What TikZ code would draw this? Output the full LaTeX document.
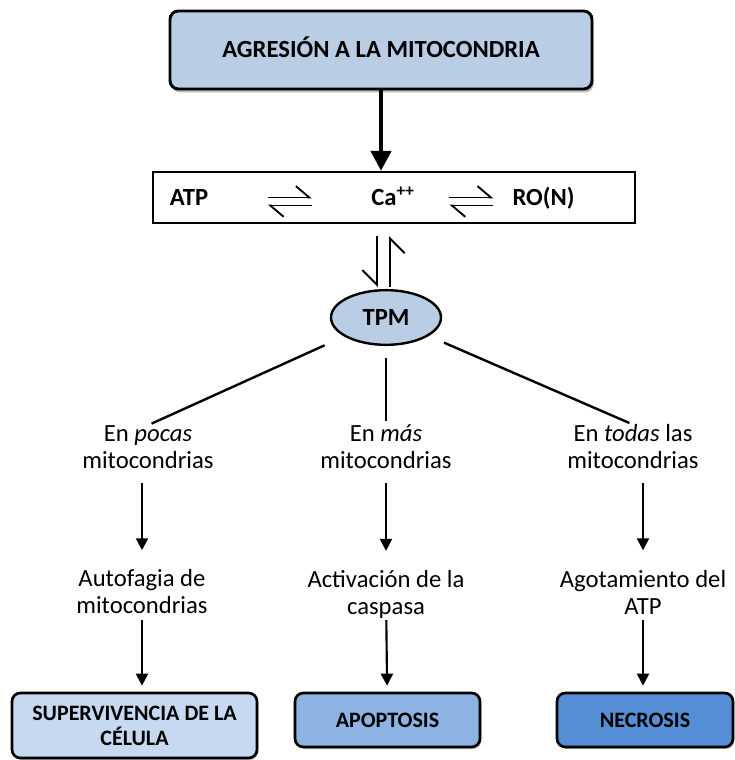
\documentclass[tikz,border=0pt]{standalone}
\usepackage{fontspec}
\setmainfont{Carlito}
\usepackage{tikz}
\usetikzlibrary{arrows.meta,positioning,shapes.geometric,shadows,calc}
\definecolor{MitoTop}{HTML}{B9CDE5}
\definecolor{MitoPale}{HTML}{C6D9F1}
\definecolor{MitoMid}{HTML}{8DB3E2}
\definecolor{MitoDeep}{HTML}{558ED5}

\begin{document}
\begin{tikzpicture}[
  x=0.75pt,y=-0.75pt,
  every node/.style={font=\fontsize{18.5}{20.25}\selectfont},
  hdr/.style={rectangle,rounded corners=2.2mm,draw=black,line width=2.2pt,fill=MitoTop,minimum width=316.5pt,minimum height=58.5pt,text depth=0.45em,font=\fontsize{18.5}{22}\selectfont\bfseries,drop shadow={shadow xshift=1.2pt,shadow yshift=-2.5pt,opacity=.55}},
  eqbox/.style={rectangle,draw=black,line width=1.8pt,fill=white,minimum width=361.5pt,minimum height=38.25pt,inner sep=0pt,drop shadow={shadow xshift=1pt,shadow yshift=-1pt,opacity=.4}},
  species/.style={inner sep=0pt,text height=0.75em,text depth=0.22em,font=\fontsize{18.5}{22}\selectfont\bfseries},
  tpmshape/.style={ellipse,draw=black,line width=1.8pt,fill=MitoTop,minimum width=82.5pt,minimum height=41pt,inner sep=0pt,font=\fontsize{18.5}{22}\selectfont\bfseries},
  lbl/.style={align=center,inner sep=0pt},
  outcome/.style={rectangle,rounded corners=2.2mm,draw=black,line width=2pt,align=center,inner sep=0pt,font=\fontsize{16.5}{18.75}\selectfont\bfseries,drop shadow={shadow xshift=1pt,shadow yshift=-1.5pt,opacity=.5}},
  harpL/.style={-{Straight Barb[left,length=10pt,width=17pt]},line width=1.4pt},
  harpR/.style={-{Straight Barb[right,length=11pt,width=22pt]},line width=1.4pt},
  branch/.style={line width=1.8pt},
  arrow/.style={-{Triangle[length=9pt,width=9pt]},line width=1.6pt},
  bigarrow/.style={-{Triangle[length=15pt,width=15pt]},line width=3.5pt}
]
\useasboundingbox (0,0) rectangle (735,760);
\node[hdr] (agresion) at (381,50) {AGRESIÓN A LA MITOCONDRIA};
\node[eqbox] (equil) at (394,197.5) {};
\node[species,anchor=base] (atp) at (189,205) {ATP};
\node[species,anchor=base] (ca) at (393,205) {Ca\textsuperscript{++}};
\node[species,anchor=base] (ron) at (543.5,205) {RO(N)};
\node[tpmshape] (tpm) at (386,317.5) {TPM};

\node[lbl] (pocas) at (148,447) {En \textit{pocas}\\mitocondrias};
\node[lbl] (mas) at (386,447) {En \textit{más}\\mitocondrias};
\node[lbl] (todas) at (633,447) {En \textit{todas} las\\mitocondrias};
\node[lbl] (autofagia) at (142,592) {Autofagia de\\mitocondrias};
\node[lbl] (activacion) at (386,594.5) {Activación de la\\caspasa};
\node[lbl] (agotamiento) at (643,592) {Agotamiento del\\ATP};

\node[outcome,fill=MitoPale,minimum width=183.75pt,minimum height=48.75pt] (super) at (134.5,725.5) {SUPERVIVENCIA DE LA\\CÉLULA};
\node[outcome,fill=MitoMid,minimum width=138.75pt,minimum height=40.5pt] (apoptosis) at (387.5,720) {APOPTOSIS};
\node[outcome,fill=MitoDeep,minimum width=132pt,minimum height=40.5pt] (necrosis) at (645,720) {NECROSIS};

\draw[bigarrow] (agresion.south) -- (agresion.south |- equil.north);
\draw[harpL] ($(atp.east)!.5!(ca.west)+(-22,-4)$) -- ++(44,0);
\draw[harpL] ($(atp.east)!.5!(ca.west)+(22,4)$) -- ++(-44,0);
\draw[harpL] ($(ca.east)!.58!(ron.west)+(-22,-4)$) -- ++(44,0);
\draw[harpL] ($(ca.east)!.58!(ron.west)+(22,4)$) -- ++(-44,0);
\draw[harpR] ($(tpm.north |- equil.south)+(-9,12)$) -- ($(tpm.north)+(-9,-2)$);
\draw[harpR] ($(tpm.north)+(4,-2)$) -- ($(tpm.north |- equil.south)+(4,12)$);

\draw[branch,shorten <=16pt,shorten >=3pt] (tpm) -- (pocas.north);
\draw[branch,shorten <=9pt,shorten >=3pt] (tpm) -- (mas);
\draw[branch,shorten <=12.5pt,shorten >=3pt] (tpm) -- (todas.north);

\draw[arrow,shorten <=10.5pt,shorten >=14.5pt] (autofagia.north |- pocas.south) -- (autofagia.north);
\draw[arrow,shorten <=10.5pt,shorten >=14.5pt] (mas) -- (activacion);
\draw[arrow,shorten <=10.5pt,shorten >=14.5pt] (agotamiento.north |- todas.south) -- (agotamiento.north);
\draw[arrow,shorten <=4.5pt,shorten >=4.5pt] (autofagia.south) -- (autofagia.south |- super.north);
\draw[arrow,shorten <=1pt,shorten >=4.5pt] (activacion) -- (apoptosis);
\draw[arrow,shorten <=4.5pt,shorten >=4.5pt] (agotamiento.south) -- (agotamiento.south |- necrosis.north);
\end{tikzpicture}
\end{document}
